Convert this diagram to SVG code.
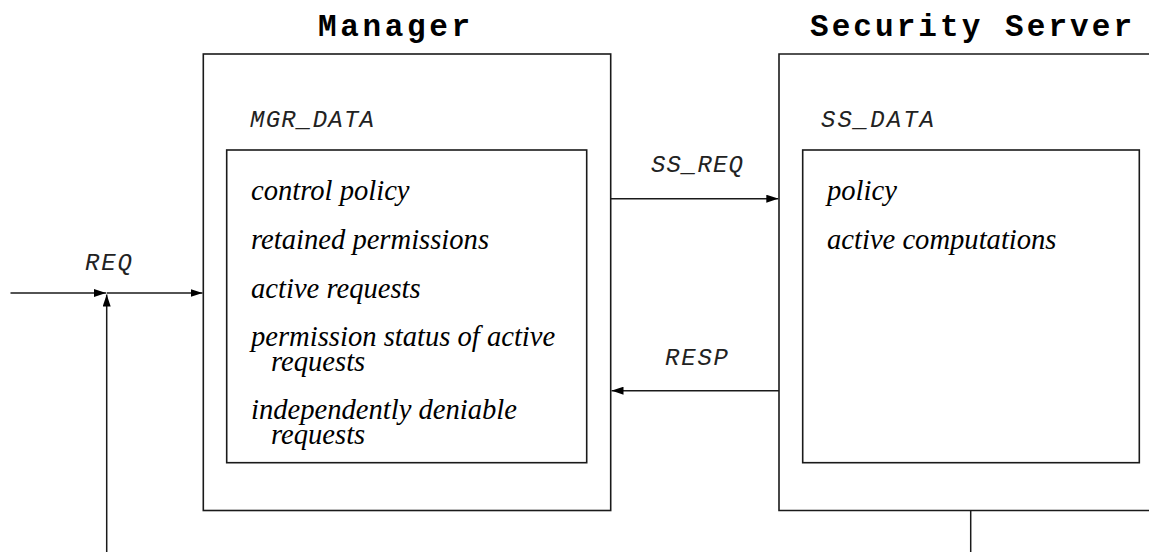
<svg xmlns="http://www.w3.org/2000/svg" width="1149" height="552" viewBox="0 0 1149 552">
  <style>
    .box { fill: none; stroke: #1a1a1a; stroke-width: 1.6; }
    .wire { fill: none; stroke: #1a1a1a; stroke-width: 1.5; }
    .title { font-family: "Liberation Mono", "Courier New", monospace; font-weight: bold; font-size: 31px; fill: #000; }
    .tag { font-family: "Liberation Mono", "Courier New", monospace; font-style: italic; font-size: 24px; fill: #222; }
    .item { font-family: "Liberation Serif", "Times New Roman", serif; font-style: italic; font-size: 28.6px; fill: #000; }
  </style>
  <defs>
    <marker id="arrow" viewBox="0 0 12 8" refX="12" refY="4" markerWidth="12" markerHeight="8" markerUnits="userSpaceOnUse" orient="auto">
      <path d="M0,0 L12,4 L0,8 Z" fill="#000"/>
    </marker>
  </defs>
  <rect width="1149" height="552" fill="#fff"/>

  <!-- Manager process -->
  <g id="manager">
    <text class="title" x="318" y="36" textLength="152" lengthAdjust="spacing">Manager</text>
    <rect class="box" x="203.3" y="54" width="407.4" height="456.5"/>
    <text class="tag" x="250" y="127" textLength="124" lengthAdjust="spacing">MGR_DATA</text>
    <rect class="box" x="226.7" y="150" width="360" height="312.7"/>
    <text class="item" x="251" y="200">control policy</text>
    <text class="item" x="251" y="249">retained permissions</text>
    <text class="item" x="251" y="298">active requests</text>
    <!-- wrapped entries keep both lines in one text element -->
    <text class="item"><tspan x="251" y="346">permission status of active</tspan><tspan x="271" y="371">requests</tspan></text>
    <text class="item"><tspan x="251" y="419">independently deniable</tspan><tspan x="271" y="444">requests</tspan></text>
  </g>

  <!-- Security Server process (extends past the right edge) -->
  <g id="security-server">
    <text class="title" x="810" y="36" textLength="322" lengthAdjust="spacing">Security Server</text>
    <path class="box" d="M1160,54 H779 V510.5 H1160"/>
    <text class="tag" x="821" y="127" textLength="113" lengthAdjust="spacing">SS_DATA</text>
    <rect class="box" x="802.7" y="150" width="336.6" height="312.7"/>
    <text class="item" x="827" y="200">policy</text>
    <text class="item" x="827" y="249">active computations</text>
  </g>

  <!-- Message flows -->
  <g id="connectors">
    <line class="wire" x1="10.5" y1="293" x2="106" y2="293" marker-end="url(#arrow)"/>
    <line class="wire" x1="106.7" y1="293" x2="202.5" y2="293" marker-end="url(#arrow)"/>
    <line class="wire" x1="106.7" y1="552" x2="106.7" y2="294.5" marker-end="url(#arrow)"/>
    <text class="tag" x="85" y="270" textLength="47" lengthAdjust="spacing">REQ</text>

    <line class="wire" x1="610.7" y1="198.7" x2="778.3" y2="198.7" marker-end="url(#arrow)"/>
    <text class="tag" x="651" y="172" textLength="92" lengthAdjust="spacing">SS_REQ</text>

    <line class="wire" x1="779" y1="390.7" x2="611.5" y2="390.7" marker-end="url(#arrow)"/>
    <text class="tag" x="665" y="365" textLength="63" lengthAdjust="spacing">RESP</text>

    <line class="wire" x1="970.7" y1="510.5" x2="970.7" y2="552"/>
  </g>
</svg>
